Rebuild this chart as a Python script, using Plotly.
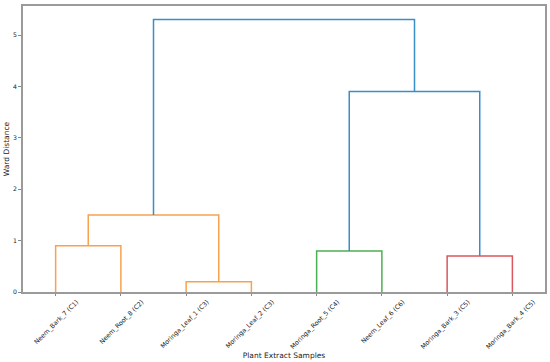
import plotly.graph_objects as go

# ---- data ----
leaf_labels = ["Neem_Bark_7 (C1)", "Neem_Root_8 (C2)", "Moringa_Leaf_1 (C3)", "Moringa_Leaf_2 (C3)",
               "Moringa_Root_5 (C4)", "Neem_Leaf_6 (C6)", "Moringa_Bark_3 (C5)", "Moringa_Bark_4 (C5)"]
merge_left = [0, 2, 4, 6, 8, 10, 12]
merge_right = [1, 3, 5, 7, 9, 11, 13]
merge_height = [0.9, 0.2, 0.8, 0.7, 1.5, 3.9, 5.3]
y_ticks = [0, 1, 2, 3, 4, 5]

palette = ["#f7a24f", "#4cb050", "#d8585e"]
above_color = "#3a8ec8"

n = len(leaf_labels)
leaf_x = [5 + 10 * i for i in range(n)]
node_x = {i: leaf_x[i] for i in range(n)}
node_h = {i: 0.0 for i in range(n)}
children = {}
for k, (a, b, h) in enumerate(zip(merge_left, merge_right, merge_height)):
    nid = n + k
    children[nid] = (a, b)
    node_x[nid] = (node_x[a] + node_x[b]) / 2
    node_h[nid] = h

root = n + len(merge_height) - 1
threshold = 0.7 * max(merge_height)
node_color = {}
pal_idx = [0]

def paint(nid, col):
    if nid in children:
        node_color[nid] = col
        for c in children[nid]:
            paint(c, col)

def walk(nid):
    if nid not in children:
        return
    if node_h[nid] >= threshold:
        node_color[nid] = above_color
        for c in children[nid]:
            walk(c)
    else:
        col = palette[pal_idx[0] % len(palette)]
        pal_idx[0] += 1
        paint(nid, col)

walk(root)

fig = go.Figure()
for nid, (a, b) in children.items():
    fig.add_trace(go.Scatter(
        x=[node_x[a], node_x[a], node_x[b], node_x[b]],
        y=[node_h[a], node_h[nid], node_h[nid], node_h[b]],
        mode="lines", line=dict(color=node_color[nid], width=1.5),
        showlegend=False, hoverinfo="skip"))

font = "DejaVu Sans, sans-serif"
fig.update_layout(
    width=550, height=362,
    margin=dict(l=23, r=5, t=6, b=70),
    plot_bgcolor="white", paper_bgcolor="white",
    font=dict(family=font, color="#222222"),
    xaxis=dict(range=[0, 10 * n], tickmode="array", tickvals=leaf_x, ticktext=leaf_labels,
               tickangle=-45, tickfont=dict(size=6.4), ticks="outside", ticklen=2,
               tickcolor="#888888", ticklabelshift=21, automargin=False,
               showline=True, linecolor="#9a9a9a", linewidth=1.5, mirror=True,
               showgrid=False, zeroline=False,
               title=dict(text="Plant Extract Samples", font=dict(size=7.5), standoff=2)),
    yaxis=dict(range=[0, 1.05 * max(merge_height)], tickvals=y_ticks, automargin=False,
               tickfont=dict(size=6.2), ticks="outside", ticklen=3, tickcolor="#888888",
               showline=True, linecolor="#9a9a9a", linewidth=1.5, mirror=True,
               showgrid=False, zeroline=False,
               title=dict(text="Ward Distance", font=dict(size=7.5), standoff=2)),
)
fig.write_html("out.html", config={"displayModeBar": False},
               post_script="document.body.style.margin='0';document.body.style.padding='0';")
